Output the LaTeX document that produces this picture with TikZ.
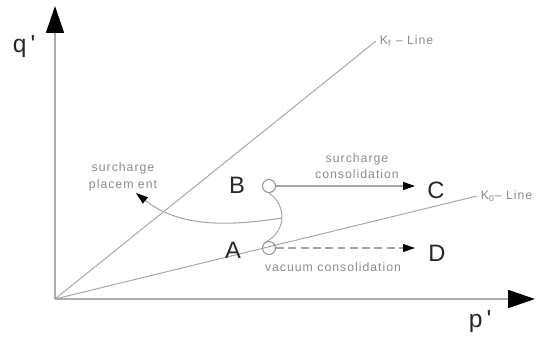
\documentclass[tikz,border=0pt]{standalone}
\usepackage{fontspec}
\setmainfont{Liberation Sans}
\newfontfamily\cadfont[LetterSpace=8]{Liberation Sans}
\usepackage{tikz}
\usetikzlibrary{arrows.meta, positioning, calc}

\begin{document}
\begin{tikzpicture}[
  x=0.02cm, y=-0.02cm,
  font=\cadfont\fontsize{7}{9.5}\selectfont,
  axis/.style={
    draw=gray!65, line width=1pt,
    -{Triangle[length=5.4mm, width=3.6mm, color=black]}
  },
  kline/.style={draw=gray!70, line width=0.55pt},
  arr/.style={
    draw=gray!70, line width=0.6pt,
    -{Triangle[length=2.4mm, width=1.6mm, color=black]}
  },
  pt/.style={circle, draw=gray!85, line width=0.6pt,
    minimum size=0.26cm, inner sep=0pt},
  letter/.style={font=\fontsize{13.5}{15}\selectfont, text=black!85, inner sep=0pt},
  note/.style={text=gray!90, align=center, inner sep=0pt},
]
\useasboundingbox (0,0) rectangle (536,338);

%% Axes
\coordinate (O)    at (55,299);
\coordinate (qtip) at (55,6);
\coordinate (ptip) at (535,299);
\draw[axis] (O) -- (qtip);
\draw[axis] (O) -- (ptip);
\node[letter, font=\fontsize{14}{16}\selectfont] (qlab) at (24,47) {q\,\textquotesingle};
\node[letter, font=\fontsize{14}{16}\selectfont] (plab) at (480,322) {p\,\textquotesingle};

%% K-lines
\coordinate (kfend) at (376,41);
\coordinate (kzend) at (477,196);
\draw[kline] (O) -- (kfend);
\draw[kline] (O) -- (kzend);
\node[note, anchor=west] (kflab) at ([xshift=2pt]kfend) {K\textsubscript{f} – Line};
\node[note, anchor=west] (kzlab) at ([xshift=2pt]kzend) {K\textsubscript{0}– Line};

%% Stress points
\node[pt] (ptB) at (269,186) {};
\node[pt] (ptA) at (269,248) {};
\node[letter] (B) at (237,185) {B};
\node[letter] (A) at (233,250) {A};
\node[letter] (C) at (436,190) {C};
\node[letter] (D) at (437,253) {D};

%% Paths
\coordinate (tipC)   at (415,186);
\coordinate (tipD)   at (415,248);
\coordinate (split)  at (282,218);
\coordinate (spltip) at (136,193);
\draw[arr] (ptB) -- (tipC);
\draw[arr, dash pattern=on 4.5pt off 2.5pt] (ptA) -- (tipD);
\draw[kline] (ptB.south) .. controls (287,205) and (287,232) .. (ptA.north west);
\draw[arr] (split) .. controls (230,226) and (180,228) .. (spltip);

%% Labels
\node[note] (scons) at (357,166) {surcharge\\consolidation};
\node[note] (splace) at (123,177) {surcharge\\placem ent};
\node[note] (vcons) at (333,267) {vacuum consolidation};
\end{tikzpicture}
\end{document}
